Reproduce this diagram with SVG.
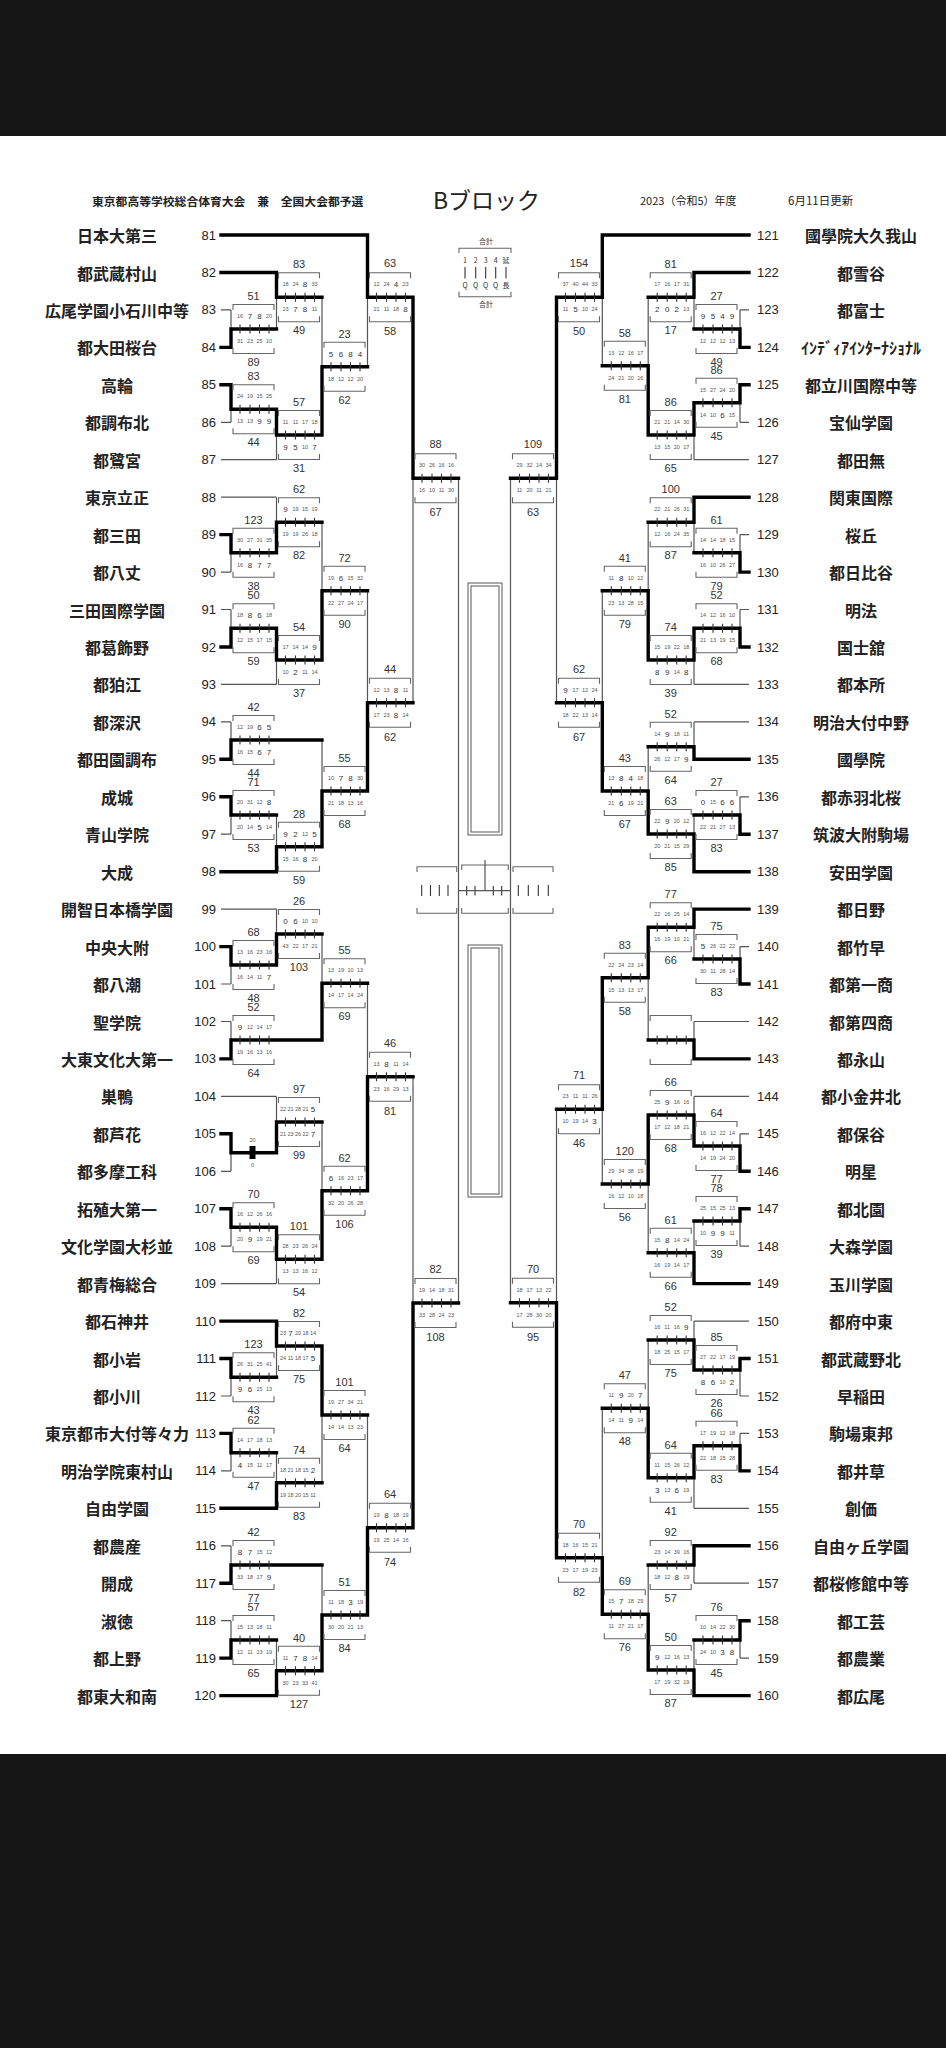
<svg xmlns="http://www.w3.org/2000/svg" xmlns:xlink="http://www.w3.org/1999/xlink" width="946" height="2048" viewBox="0 0 946 2048">
<style>
.tn{font-family:"Noto Sans CJK JP","Noto Sans CJK SC",sans-serif;font-size:16px;font-weight:700;text-anchor:middle;dominant-baseline:central;fill:#222}
.no{font-family:"Liberation Sans",Arial,sans-serif;font-size:13px;dominant-baseline:central;fill:#222}
.nl{text-anchor:end}
.tt{font-family:"Liberation Sans",Arial,sans-serif;font-size:11px;text-anchor:middle;dominant-baseline:central;fill:#333}
.q{font-family:"Liberation Sans",Arial,sans-serif;font-size:5.5px;text-anchor:middle;dominant-baseline:central;fill:#555}
.s{font-size:8px;fill:#333}
.th{fill:none;stroke:#555;stroke-width:1.2}
.tk{fill:none;stroke:#000;stroke-width:3.4;stroke-linecap:square;stroke-linejoin:miter}
.br{fill:none;stroke:#666;stroke-width:1.1}
.tc{fill:none;stroke:#333;stroke-width:1.1}
.lg{font-family:"Noto Sans CJK JP",sans-serif;font-size:7px;text-anchor:middle;dominant-baseline:central;fill:#333}
.hd{font-family:"Noto Sans CJK JP","Noto Sans CJK SC",sans-serif;dominant-baseline:central;fill:#222}
</style>
<defs>
<g id="bx"><path class="br" d="M2,-19V-24.5H43V-19M2,19V24.5H43V19"/><path class="tc" d="M9,-4.5V4.5M19,-4.5V4.5M28.5,-4.5V4.5M38,-4.5V4.5"/></g>
</defs>
<rect x="0" y="0" width="946" height="2048" fill="#161616"/>
<rect x="0" y="136" width="946" height="1618" fill="#ffffff"/>

<g id="header">
<text class="hd" x="92" y="200" style="font-size:11.8px;font-weight:700">東京都高等学校総合体育大会　兼　全国大会都予選</text>
<text class="hd" x="433" y="199" style="font-size:23px">Bブロック</text>
<text class="hd" x="640" y="200" style="font-size:11px">2023（令和5）年度</text>
<text class="hd" x="788" y="200" style="font-size:11.5px">6月11日更新</text>
</g>

<g id="legend">
<text class="lg" x="486" y="240.5">合計</text>
<path class="br" d="M459,253V248.3H511V253M459,291.7V296.7H511V291.7"/>
<text class="lg" y="260"><tspan x="465">1</tspan><tspan x="475.7">2</tspan><tspan x="485.7">3</tspan><tspan x="495.7">4</tspan><tspan x="506">延</tspan></text>
<path class="tc" d="M465,267V278.5M475.7,267V278.5M485.7,267V278.5M495.7,267V278.5M506,267V278.5"/>
<text class="lg" y="284.5"><tspan x="465">Q</tspan><tspan x="475.7">Q</tspan><tspan x="485.7">Q</tspan><tspan x="495.7">Q</tspan><tspan x="506">長</tspan></text>
<text class="lg" x="486" y="303.5">合計</text>
</g>

<g id="final">
<rect class="br" x="468" y="583" width="34" height="252"/>
<rect class="br" x="471" y="586" width="28" height="246"/>
<rect class="br" x="468" y="945" width="34" height="252"/>
<rect class="br" x="471" y="948" width="28" height="246"/>
<path class="br" d="M417,872V866.7H456.7V872M417,908V913.3H456.7V908"/>
<path class="tc" d="M421.7,885V896M430.5,885V896M439.3,885V896M448,885V896"/>
<path class="br" d="M461.7,870V865H508.3V870M461.7,908V913.3H508.3V908"/>
<path class="tc" d="M466.7,886V895.5M475,886V895.5M493.3,886V895.5M501.7,886V895.5"/>
<path class="br" d="M513,872V866.7H553V872M513,908V913.3H553V908"/>
<path class="tc" d="M518.3,885V896M528.3,885V896M538.3,885V896M548.3,885V896"/>
</g>

<g id="connectors">
<path class="th" d="M221,309.9H231M221,422.3H231M221,459.7H276.5M221,497.2H276.5M221,572.1H231M221,609.5H231M221,684.4H276.5M221,721.9H231M221,834.2H231M221,909.1H276.5M221,984H231M221,1021.5H231M221,1096.4H276.5M221,1171.3H231M221,1246.2H231M221,1283.6H276.5M221,1396H231M221,1470.9H231M221,1545.8H231M221,1620.7H231"/>
<path class="th" d="M231,309.9V347.4M231,384.8V422.3M231,534.6V572.1M231,609.5V647M231,721.9V759.3M231,796.8V834.2M231,946.6V984M231,1021.5V1058.9M231,1133.8V1171.3M231,1208.7V1246.2M231,1358.5V1396M231,1433.4V1470.9M231,1545.8V1583.2M231,1620.7V1658.1"/>
<path class="th" d="M276.5,272.5V329M276.5,409.3V459.7M276.5,497.2V552.7M276.5,628.3V684.4M276.5,815V871.7M276.5,909.1V965M276.5,1096.4V1152.7M276.5,1227.3V1283.6M276.5,1321.1V1377.3M276.5,1452.7V1508.3M276.5,1640V1695.6"/>
<path class="th" d="M322,297.3V435M322,522.3V660M322,740V846.7M322,934V1040M322,1122V1259.3M322,1346V1482.7M322,1565V1670.7"/>
<path class="th" d="M367.5,235V366.7M367.5,590.7V791M367.5,983.3V1190.7M367.5,1415V1615"/>
<path class="th" d="M413,297.3V702.7M413,1076.7V1527.7"/>
<path class="th" d="M458.5,478.3V1303M458.5,890.7H510.5M485,860V890.7"/>
<path class="th" d="M749,309.9H740M749,422.3H740M749,459.7H694M749,534.6H740M749,609.5H740M749,684.4H694M749,721.9H694M749,796.8H740M749,946.6H740M749,1021.5H694M749,1096.4H694M749,1133.8H740M749,1246.2H740M749,1321.1H694M749,1396H740M749,1433.4H740M749,1508.3H694M749,1583.2H694M749,1658.1H740"/>
<path class="th" d="M740,309.9V347.4M740,384.8V422.3M740,534.6V572.1M740,609.5V647M740,796.8V834.2M740,946.6V984M740,1133.8V1171.3M740,1208.7V1246.2M740,1358.5V1396M740,1433.4V1470.9M740,1620.7V1658.1"/>
<path class="th" d="M694,272.5V329M694,402.7V459.7M694,497.2V552.7M694,628.3V684.4M694,721.9V759.3M694,815V871.7M694,909.1V959M694,1021.5V1058.9M694,1096.4V1146M694,1221V1283.6M694,1321.1V1370M694,1445.7V1508.3M694,1545.8V1583.2M694,1640V1695.6"/>
<path class="th" d="M648.2,297.3V435M648.2,522.3V660M648.2,746.7V834M648.2,927.3V1040M648.2,1115V1252.7M648.2,1340V1477.7M648.2,1565V1670"/>
<path class="th" d="M602.3,235V365.7M602.3,590.7V791M602.3,977.7V1184M602.3,1408.3V1614.3"/>
<path class="th" d="M556.5,297.3V702.7M556.5,1109.3V1557.7"/>
<path class="th" d="M510.5,478.3V1302.7"/>
<path class="tk" d="M221,235H367.5V297.3H413V478.3H458.5"/>
<path class="tk" d="M221,272.5H276.5V297.3H322"/>
<path class="tk" d="M221,347.4H231V329H276.5"/>
<path class="tk" d="M221,384.8H231V409.3H276.5V435H322V366.7H367.5"/>
<path class="tk" d="M221,534.6H231V552.7H276.5V522.3H322"/>
<path class="tk" d="M221,647H231V628.3H276.5V660H322V590.7H367.5"/>
<path class="tk" d="M221,759.3H231V740H322"/>
<path class="tk" d="M221,796.8H231V815H276.5"/>
<path class="tk" d="M221,871.7H276.5V846.7H322V791H367.5V702.7H413"/>
<path class="tk" d="M221,946.6H231V965H276.5V934H322"/>
<path class="tk" d="M221,1058.9H231V1040H322V983.3H367.5"/>
<path class="tk" d="M221,1133.8H231V1152.7H276.5V1122H322"/>
<path class="tk" d="M221,1208.7H231V1227.3H276.5V1259.3H322V1190.7H367.5V1076.7H413"/>
<path class="tk" d="M221,1321.1H276.5V1346H322V1415H367.5"/>
<path class="tk" d="M221,1358.5H231V1377.3H276.5"/>
<path class="tk" d="M221,1433.4H231V1452.7H276.5"/>
<path class="tk" d="M221,1508.3H276.5V1482.7H322"/>
<path class="tk" d="M221,1583.2H231V1565H322"/>
<path class="tk" d="M221,1658.1H231V1640H276.5"/>
<path class="tk" d="M221,1695.6H276.5V1670.7H322V1615H367.5V1527.7H413V1303H458.5"/>
<path class="tk" d="M749,235H602.3V297.3H556.5V478.3H510.5"/>
<path class="tk" d="M749,272.5H694V297.3H648.2"/>
<path class="tk" d="M749,347.4H740V329H694"/>
<path class="tk" d="M749,384.8H740V402.7H694V435H648.2V365.7H602.3"/>
<path class="tk" d="M749,497.2H694V522.3H648.2"/>
<path class="tk" d="M749,572.1H740V552.7H694"/>
<path class="tk" d="M749,647H740V628.3H694V660H648.2V590.7H602.3"/>
<path class="tk" d="M749,759.3H694V746.7H648.2"/>
<path class="tk" d="M749,834.2H740V815H694"/>
<path class="tk" d="M749,871.7H694V834H648.2V791H602.3V702.7H556.5"/>
<path class="tk" d="M749,909.1H694V927.3H648.2V977.7H602.3V1109.3H556.5"/>
<path class="tk" d="M749,984H740V959H694"/>
<path class="tk" d="M749,1058.9H694V1040H648.2"/>
<path class="tk" d="M749,1171.3H740V1146H694V1115H648.2V1184H602.3"/>
<path class="tk" d="M749,1208.7H740V1221H694"/>
<path class="tk" d="M749,1283.6H694V1252.7H648.2"/>
<path class="tk" d="M749,1358.5H740V1370H694V1340H648.2"/>
<path class="tk" d="M749,1470.9H740V1445.7H694V1477.7H648.2V1408.3H602.3"/>
<path class="tk" d="M749,1545.8H694V1565H648.2"/>
<path class="tk" d="M749,1620.7H740V1640H694"/>
<path class="tk" d="M749,1695.6H694V1670H648.2V1614.3H602.3V1557.7H556.5V1302.7H510.5"/>
</g>

<g id="teams-left">
<g id="t81"><text class="tn" x="117" y="235">日本大第三</text><text class="no nl" x="216" y="235">81</text></g>
<g id="t82"><text class="tn" x="117" y="272.5">都武蔵村山</text><text class="no nl" x="216" y="272.5">82</text></g>
<g id="t83"><text class="tn" x="117" y="309.9">広尾学園小石川中等</text><text class="no nl" x="216" y="309.9">83</text></g>
<g id="t84"><text class="tn" x="117" y="347.4">都大田桜台</text><text class="no nl" x="216" y="347.4">84</text></g>
<g id="t85"><text class="tn" x="117" y="384.8">高輪</text><text class="no nl" x="216" y="384.8">85</text></g>
<g id="t86"><text class="tn" x="117" y="422.3">都調布北</text><text class="no nl" x="216" y="422.3">86</text></g>
<g id="t87"><text class="tn" x="117" y="459.7">都鷺宮</text><text class="no nl" x="216" y="459.7">87</text></g>
<g id="t88"><text class="tn" x="117" y="497.2">東京立正</text><text class="no nl" x="216" y="497.2">88</text></g>
<g id="t89"><text class="tn" x="117" y="534.6">都三田</text><text class="no nl" x="216" y="534.6">89</text></g>
<g id="t90"><text class="tn" x="117" y="572.1">都八丈</text><text class="no nl" x="216" y="572.1">90</text></g>
<g id="t91"><text class="tn" x="117" y="609.5">三田国際学園</text><text class="no nl" x="216" y="609.5">91</text></g>
<g id="t92"><text class="tn" x="117" y="647">都葛飾野</text><text class="no nl" x="216" y="647">92</text></g>
<g id="t93"><text class="tn" x="117" y="684.4">都狛江</text><text class="no nl" x="216" y="684.4">93</text></g>
<g id="t94"><text class="tn" x="117" y="721.9">都深沢</text><text class="no nl" x="216" y="721.9">94</text></g>
<g id="t95"><text class="tn" x="117" y="759.3">都田園調布</text><text class="no nl" x="216" y="759.3">95</text></g>
<g id="t96"><text class="tn" x="117" y="796.8">成城</text><text class="no nl" x="216" y="796.8">96</text></g>
<g id="t97"><text class="tn" x="117" y="834.2">青山学院</text><text class="no nl" x="216" y="834.2">97</text></g>
<g id="t98"><text class="tn" x="117" y="871.7">大成</text><text class="no nl" x="216" y="871.7">98</text></g>
<g id="t99"><text class="tn" x="117" y="909.1">開智日本橋学園</text><text class="no nl" x="216" y="909.1">99</text></g>
<g id="t100"><text class="tn" x="117" y="946.6">中央大附</text><text class="no nl" x="216" y="946.6">100</text></g>
<g id="t101"><text class="tn" x="117" y="984">都八潮</text><text class="no nl" x="216" y="984">101</text></g>
<g id="t102"><text class="tn" x="117" y="1021.5">聖学院</text><text class="no nl" x="216" y="1021.5">102</text></g>
<g id="t103"><text class="tn" x="117" y="1058.9">大東文化大第一</text><text class="no nl" x="216" y="1058.9">103</text></g>
<g id="t104"><text class="tn" x="117" y="1096.4">巣鴨</text><text class="no nl" x="216" y="1096.4">104</text></g>
<g id="t105"><text class="tn" x="117" y="1133.8">都芦花</text><text class="no nl" x="216" y="1133.8">105</text></g>
<g id="t106"><text class="tn" x="117" y="1171.3">都多摩工科</text><text class="no nl" x="216" y="1171.3">106</text></g>
<g id="t107"><text class="tn" x="117" y="1208.7">拓殖大第一</text><text class="no nl" x="216" y="1208.7">107</text></g>
<g id="t108"><text class="tn" x="117" y="1246.2">文化学園大杉並</text><text class="no nl" x="216" y="1246.2">108</text></g>
<g id="t109"><text class="tn" x="117" y="1283.6">都青梅総合</text><text class="no nl" x="216" y="1283.6">109</text></g>
<g id="t110"><text class="tn" x="117" y="1321.1">都石神井</text><text class="no nl" x="216" y="1321.1">110</text></g>
<g id="t111"><text class="tn" x="117" y="1358.5">都小岩</text><text class="no nl" x="216" y="1358.5">111</text></g>
<g id="t112"><text class="tn" x="117" y="1396">都小川</text><text class="no nl" x="216" y="1396">112</text></g>
<g id="t113"><text class="tn" x="117" y="1433.4">東京都市大付等々力</text><text class="no nl" x="216" y="1433.4">113</text></g>
<g id="t114"><text class="tn" x="117" y="1470.9">明治学院東村山</text><text class="no nl" x="216" y="1470.9">114</text></g>
<g id="t115"><text class="tn" x="117" y="1508.3">自由学園</text><text class="no nl" x="216" y="1508.3">115</text></g>
<g id="t116"><text class="tn" x="117" y="1545.8">都農産</text><text class="no nl" x="216" y="1545.8">116</text></g>
<g id="t117"><text class="tn" x="117" y="1583.2">開成</text><text class="no nl" x="216" y="1583.2">117</text></g>
<g id="t118"><text class="tn" x="117" y="1620.7">淑徳</text><text class="no nl" x="216" y="1620.7">118</text></g>
<g id="t119"><text class="tn" x="117" y="1658.1">都上野</text><text class="no nl" x="216" y="1658.1">119</text></g>
<g id="t120"><text class="tn" x="117" y="1695.6">都東大和南</text><text class="no nl" x="216" y="1695.6">120</text></g>
</g>

<g id="teams-right">
<g id="t121"><text class="tn" x="861" y="235">國學院大久我山</text><text class="no" x="757" y="235">121</text></g>
<g id="t122"><text class="tn" x="861" y="272.5">都雪谷</text><text class="no" x="757" y="272.5">122</text></g>
<g id="t123"><text class="tn" x="861" y="309.9">都富士</text><text class="no" x="757" y="309.9">123</text></g>
<g id="t124"><text class="tn" x="861" y="347.4">ｲﾝﾃﾞｨｱｲﾝﾀｰﾅｼｮﾅﾙ</text><text class="no" x="757" y="347.4">124</text></g>
<g id="t125"><text class="tn" x="861" y="384.8">都立川国際中等</text><text class="no" x="757" y="384.8">125</text></g>
<g id="t126"><text class="tn" x="861" y="422.3">宝仙学園</text><text class="no" x="757" y="422.3">126</text></g>
<g id="t127"><text class="tn" x="861" y="459.7">都田無</text><text class="no" x="757" y="459.7">127</text></g>
<g id="t128"><text class="tn" x="861" y="497.2">関東国際</text><text class="no" x="757" y="497.2">128</text></g>
<g id="t129"><text class="tn" x="861" y="534.6">桜丘</text><text class="no" x="757" y="534.6">129</text></g>
<g id="t130"><text class="tn" x="861" y="572.1">都日比谷</text><text class="no" x="757" y="572.1">130</text></g>
<g id="t131"><text class="tn" x="861" y="609.5">明法</text><text class="no" x="757" y="609.5">131</text></g>
<g id="t132"><text class="tn" x="861" y="647">国士舘</text><text class="no" x="757" y="647">132</text></g>
<g id="t133"><text class="tn" x="861" y="684.4">都本所</text><text class="no" x="757" y="684.4">133</text></g>
<g id="t134"><text class="tn" x="861" y="721.9">明治大付中野</text><text class="no" x="757" y="721.9">134</text></g>
<g id="t135"><text class="tn" x="861" y="759.3">國學院</text><text class="no" x="757" y="759.3">135</text></g>
<g id="t136"><text class="tn" x="861" y="796.8">都赤羽北桜</text><text class="no" x="757" y="796.8">136</text></g>
<g id="t137"><text class="tn" x="861" y="834.2">筑波大附駒場</text><text class="no" x="757" y="834.2">137</text></g>
<g id="t138"><text class="tn" x="861" y="871.7">安田学園</text><text class="no" x="757" y="871.7">138</text></g>
<g id="t139"><text class="tn" x="861" y="909.1">都日野</text><text class="no" x="757" y="909.1">139</text></g>
<g id="t140"><text class="tn" x="861" y="946.6">都竹早</text><text class="no" x="757" y="946.6">140</text></g>
<g id="t141"><text class="tn" x="861" y="984">都第一商</text><text class="no" x="757" y="984">141</text></g>
<g id="t142"><text class="tn" x="861" y="1021.5">都第四商</text><text class="no" x="757" y="1021.5">142</text></g>
<g id="t143"><text class="tn" x="861" y="1058.9">都永山</text><text class="no" x="757" y="1058.9">143</text></g>
<g id="t144"><text class="tn" x="861" y="1096.4">都小金井北</text><text class="no" x="757" y="1096.4">144</text></g>
<g id="t145"><text class="tn" x="861" y="1133.8">都保谷</text><text class="no" x="757" y="1133.8">145</text></g>
<g id="t146"><text class="tn" x="861" y="1171.3">明星</text><text class="no" x="757" y="1171.3">146</text></g>
<g id="t147"><text class="tn" x="861" y="1208.7">都北園</text><text class="no" x="757" y="1208.7">147</text></g>
<g id="t148"><text class="tn" x="861" y="1246.2">大森学園</text><text class="no" x="757" y="1246.2">148</text></g>
<g id="t149"><text class="tn" x="861" y="1283.6">玉川学園</text><text class="no" x="757" y="1283.6">149</text></g>
<g id="t150"><text class="tn" x="861" y="1321.1">都府中東</text><text class="no" x="757" y="1321.1">150</text></g>
<g id="t151"><text class="tn" x="861" y="1358.5">都武蔵野北</text><text class="no" x="757" y="1358.5">151</text></g>
<g id="t152"><text class="tn" x="861" y="1396">早稲田</text><text class="no" x="757" y="1396">152</text></g>
<g id="t153"><text class="tn" x="861" y="1433.4">駒場東邦</text><text class="no" x="757" y="1433.4">153</text></g>
<g id="t154"><text class="tn" x="861" y="1470.9">都井草</text><text class="no" x="757" y="1470.9">154</text></g>
<g id="t155"><text class="tn" x="861" y="1508.3">創価</text><text class="no" x="757" y="1508.3">155</text></g>
<g id="t156"><text class="tn" x="861" y="1545.8">自由ヶ丘学園</text><text class="no" x="757" y="1545.8">156</text></g>
<g id="t157"><text class="tn" x="861" y="1583.2">都桜修館中等</text><text class="no" x="757" y="1583.2">157</text></g>
<g id="t158"><text class="tn" x="861" y="1620.7">都工芸</text><text class="no" x="757" y="1620.7">158</text></g>
<g id="t159"><text class="tn" x="861" y="1658.1">都農業</text><text class="no" x="757" y="1658.1">159</text></g>
<g id="t160"><text class="tn" x="861" y="1695.6">都広尾</text><text class="no" x="757" y="1695.6">160</text></g>
</g>

<g id="matches-left">
<g id="m83" transform="translate(231,329)"><use href="#bx"/><text class="tt" x="22.5" y="-33">51</text><text class="tt" x="22.5" y="33">89</text><text class="q" y="-13"><tspan x="9">16</tspan><tspan x="19" class="s">7</tspan><tspan x="28.5" class="s">8</tspan><tspan x="38">20</tspan></text><text class="q" y="12"><tspan x="9">31</tspan><tspan x="19">23</tspan><tspan x="28.5">25</tspan><tspan x="38">10</tspan></text></g>
<g id="m85" transform="translate(231,409.3)"><use href="#bx"/><text class="tt" x="22.5" y="-33">83</text><text class="tt" x="22.5" y="33">44</text><text class="q" y="-13"><tspan x="9">24</tspan><tspan x="19">19</tspan><tspan x="28.5">15</tspan><tspan x="38">25</tspan></text><text class="q" y="12"><tspan x="9">13</tspan><tspan x="19">13</tspan><tspan x="28.5" class="s">9</tspan><tspan x="38" class="s">9</tspan></text></g>
<g id="m89" transform="translate(231,552.7)"><use href="#bx"/><text class="tt" x="22.5" y="-33">123</text><text class="tt" x="22.5" y="33">38</text><text class="q" y="-13"><tspan x="9">30</tspan><tspan x="19">27</tspan><tspan x="28.5">31</tspan><tspan x="38">35</tspan></text><text class="q" y="12"><tspan x="9">16</tspan><tspan x="19" class="s">8</tspan><tspan x="28.5" class="s">7</tspan><tspan x="38" class="s">7</tspan></text></g>
<g id="m91" transform="translate(231,628.3)"><use href="#bx"/><text class="tt" x="22.5" y="-33">50</text><text class="tt" x="22.5" y="33">59</text><text class="q" y="-13"><tspan x="9">18</tspan><tspan x="19" class="s">8</tspan><tspan x="28.5" class="s">6</tspan><tspan x="38">18</tspan></text><text class="q" y="12"><tspan x="9">12</tspan><tspan x="19">15</tspan><tspan x="28.5">17</tspan><tspan x="38">15</tspan></text></g>
<g id="m94" transform="translate(231,740)"><use href="#bx"/><text class="tt" x="22.5" y="-33">42</text><text class="tt" x="22.5" y="33">44</text><text class="q" y="-13"><tspan x="9">12</tspan><tspan x="19">19</tspan><tspan x="28.5" class="s">6</tspan><tspan x="38" class="s">5</tspan></text><text class="q" y="12"><tspan x="9">16</tspan><tspan x="19">15</tspan><tspan x="28.5" class="s">6</tspan><tspan x="38" class="s">7</tspan></text></g>
<g id="m96" transform="translate(231,815)"><use href="#bx"/><text class="tt" x="22.5" y="-33">71</text><text class="tt" x="22.5" y="33">53</text><text class="q" y="-13"><tspan x="9">20</tspan><tspan x="19">31</tspan><tspan x="28.5">12</tspan><tspan x="38" class="s">8</tspan></text><text class="q" y="12"><tspan x="9">20</tspan><tspan x="19">14</tspan><tspan x="28.5" class="s">5</tspan><tspan x="38">14</tspan></text></g>
<g id="m100" transform="translate(231,965)"><use href="#bx"/><text class="tt" x="22.5" y="-33">68</text><text class="tt" x="22.5" y="33">48</text><text class="q" y="-13"><tspan x="9">13</tspan><tspan x="19">16</tspan><tspan x="28.5">23</tspan><tspan x="38">16</tspan></text><text class="q" y="12"><tspan x="9">16</tspan><tspan x="19">14</tspan><tspan x="28.5">11</tspan><tspan x="38" class="s">7</tspan></text></g>
<g id="m102" transform="translate(231,1040)"><use href="#bx"/><text class="tt" x="22.5" y="-33">52</text><text class="tt" x="22.5" y="33">64</text><text class="q" y="-13"><tspan x="9" class="s">9</tspan><tspan x="19">12</tspan><tspan x="28.5">14</tspan><tspan x="38">17</tspan></text><text class="q" y="12"><tspan x="9">19</tspan><tspan x="19">16</tspan><tspan x="28.5">13</tspan><tspan x="38">16</tspan></text></g>
<g id="m105"><text class="q" x="252.5" y="1140">20</text><rect x="249.5" y="1146" width="6" height="13" fill="#000"/><text class="q" x="252.5" y="1164.5">0</text></g>
<g id="m107" transform="translate(231,1227.3)"><use href="#bx"/><text class="tt" x="22.5" y="-33">70</text><text class="tt" x="22.5" y="33">69</text><text class="q" y="-13"><tspan x="9">16</tspan><tspan x="19">12</tspan><tspan x="28.5">26</tspan><tspan x="38">16</tspan></text><text class="q" y="12"><tspan x="9">20</tspan><tspan x="19" class="s">9</tspan><tspan x="28.5">19</tspan><tspan x="38">21</tspan></text></g>
<g id="m111" transform="translate(231,1377.3)"><use href="#bx"/><text class="tt" x="22.5" y="-33">123</text><text class="tt" x="22.5" y="33">43</text><text class="q" y="-13"><tspan x="9">26</tspan><tspan x="19">31</tspan><tspan x="28.5">25</tspan><tspan x="38">41</tspan></text><text class="q" y="12"><tspan x="9" class="s">9</tspan><tspan x="19" class="s">6</tspan><tspan x="28.5">15</tspan><tspan x="38">13</tspan></text></g>
<g id="m113" transform="translate(231,1452.7)"><use href="#bx"/><text class="tt" x="22.5" y="-33">62</text><text class="tt" x="22.5" y="33">47</text><text class="q" y="-13"><tspan x="9">14</tspan><tspan x="19">17</tspan><tspan x="28.5">18</tspan><tspan x="38">13</tspan></text><text class="q" y="12"><tspan x="9" class="s">4</tspan><tspan x="19">15</tspan><tspan x="28.5">11</tspan><tspan x="38">17</tspan></text></g>
<g id="m116" transform="translate(231,1565)"><use href="#bx"/><text class="tt" x="22.5" y="-33">42</text><text class="tt" x="22.5" y="33">77</text><text class="q" y="-13"><tspan x="9" class="s">8</tspan><tspan x="19" class="s">7</tspan><tspan x="28.5">15</tspan><tspan x="38">12</tspan></text><text class="q" y="12"><tspan x="9">33</tspan><tspan x="19">18</tspan><tspan x="28.5">17</tspan><tspan x="38" class="s">9</tspan></text></g>
<g id="m118" transform="translate(231,1640)"><use href="#bx"/><text class="tt" x="22.5" y="-33">57</text><text class="tt" x="22.5" y="33">65</text><text class="q" y="-13"><tspan x="9">15</tspan><tspan x="19">13</tspan><tspan x="28.5">18</tspan><tspan x="38">11</tspan></text><text class="q" y="12"><tspan x="9">12</tspan><tspan x="19">11</tspan><tspan x="28.5">23</tspan><tspan x="38">19</tspan></text></g>

<g id="n82" transform="translate(276.5,297.3)"><use href="#bx"/><text class="tt" x="22.5" y="-33">83</text><text class="tt" x="22.5" y="33">49</text><text class="q" y="-13"><tspan x="9">18</tspan><tspan x="19">24</tspan><tspan x="28.5" class="s">8</tspan><tspan x="38">33</tspan></text><text class="q" y="12"><tspan x="9">23</tspan><tspan x="19" class="s">7</tspan><tspan x="28.5" class="s">8</tspan><tspan x="38">11</tspan></text></g>
<g id="n87" transform="translate(276.5,435)"><use href="#bx"/><text class="tt" x="22.5" y="-33">57</text><text class="tt" x="22.5" y="33">31</text><text class="q" y="-13"><tspan x="9">11</tspan><tspan x="19">11</tspan><tspan x="28.5">17</tspan><tspan x="38">18</tspan></text><text class="q" y="12"><tspan x="9" class="s">9</tspan><tspan x="19" class="s">5</tspan><tspan x="28.5">10</tspan><tspan x="38" class="s">7</tspan></text></g>
<g id="n88" transform="translate(276.5,522.3)"><use href="#bx"/><text class="tt" x="22.5" y="-33">62</text><text class="tt" x="22.5" y="33">82</text><text class="q" y="-13"><tspan x="9" class="s">9</tspan><tspan x="19">19</tspan><tspan x="28.5">15</tspan><tspan x="38">19</tspan></text><text class="q" y="12"><tspan x="9">19</tspan><tspan x="19">19</tspan><tspan x="28.5">26</tspan><tspan x="38">18</tspan></text></g>
<g id="n93" transform="translate(276.5,660)"><use href="#bx"/><text class="tt" x="22.5" y="-33">54</text><text class="tt" x="22.5" y="33">37</text><text class="q" y="-13"><tspan x="9">17</tspan><tspan x="19">14</tspan><tspan x="28.5">14</tspan><tspan x="38" class="s">9</tspan></text><text class="q" y="12"><tspan x="9">10</tspan><tspan x="19" class="s">2</tspan><tspan x="28.5">11</tspan><tspan x="38">14</tspan></text></g>
<g id="n98" transform="translate(276.5,846.7)"><use href="#bx"/><text class="tt" x="22.5" y="-33">28</text><text class="tt" x="22.5" y="33">59</text><text class="q" y="-13"><tspan x="9" class="s">9</tspan><tspan x="19" class="s">2</tspan><tspan x="28.5">12</tspan><tspan x="38" class="s">5</tspan></text><text class="q" y="12"><tspan x="9">15</tspan><tspan x="19">16</tspan><tspan x="28.5" class="s">8</tspan><tspan x="38">20</tspan></text></g>
<g id="n99" transform="translate(276.5,934)"><use href="#bx"/><text class="tt" x="22.5" y="-33">26</text><text class="tt" x="22.5" y="33">103</text><text class="q" y="-13"><tspan x="9" class="s">0</tspan><tspan x="19" class="s">6</tspan><tspan x="28.5">10</tspan><tspan x="38">10</tspan></text><text class="q" y="12"><tspan x="9">43</tspan><tspan x="19">22</tspan><tspan x="28.5">17</tspan><tspan x="38">21</tspan></text></g>
<g id="n104" transform="translate(276.5,1122)"><use href="#bx"/><text class="tt" x="22.5" y="-33">97</text><text class="tt" x="22.5" y="33">99</text><text class="q" y="-13"><tspan x="6.5">22</tspan><tspan x="14">21</tspan><tspan x="21.5">28</tspan><tspan x="29">21</tspan><tspan x="36.5" class="s">5</tspan></text><text class="q" y="12"><tspan x="6.5">21</tspan><tspan x="14">23</tspan><tspan x="21.5">26</tspan><tspan x="29">22</tspan><tspan x="36.5" class="s">7</tspan></text></g>
<g id="n109" transform="translate(276.5,1259.3)"><use href="#bx"/><text class="tt" x="22.5" y="-33">101</text><text class="tt" x="22.5" y="33">54</text><text class="q" y="-13"><tspan x="9">28</tspan><tspan x="19">23</tspan><tspan x="28.5">26</tspan><tspan x="38">24</tspan></text><text class="q" y="12"><tspan x="9">13</tspan><tspan x="19">13</tspan><tspan x="28.5">16</tspan><tspan x="38">12</tspan></text></g>
<g id="n110" transform="translate(276.5,1346)"><use href="#bx"/><text class="tt" x="22.5" y="-33">82</text><text class="tt" x="22.5" y="33">75</text><text class="q" y="-13"><tspan x="6.5">23</tspan><tspan x="14" class="s">7</tspan><tspan x="21.5">20</tspan><tspan x="29">18</tspan><tspan x="36.5">14</tspan></text><text class="q" y="12"><tspan x="6.5">24</tspan><tspan x="14">11</tspan><tspan x="21.5">18</tspan><tspan x="29">17</tspan><tspan x="36.5" class="s">5</tspan></text></g>
<g id="n115" transform="translate(276.5,1482.7)"><use href="#bx"/><text class="tt" x="22.5" y="-33">74</text><text class="tt" x="22.5" y="33">83</text><text class="q" y="-13"><tspan x="6.5">18</tspan><tspan x="14">21</tspan><tspan x="21.5">18</tspan><tspan x="29">15</tspan><tspan x="36.5" class="s">2</tspan></text><text class="q" y="12"><tspan x="6.5">19</tspan><tspan x="14">18</tspan><tspan x="21.5">20</tspan><tspan x="29">15</tspan><tspan x="36.5">11</tspan></text></g>
<g id="n120" transform="translate(276.5,1670.7)"><use href="#bx"/><text class="tt" x="22.5" y="-33">40</text><text class="tt" x="22.5" y="33">127</text><text class="q" y="-13"><tspan x="9">11</tspan><tspan x="19" class="s">7</tspan><tspan x="28.5" class="s">8</tspan><tspan x="38">14</tspan></text><text class="q" y="12"><tspan x="9">30</tspan><tspan x="19">23</tspan><tspan x="28.5">33</tspan><tspan x="38">41</tspan></text></g>

<g id="p1" transform="translate(322,366.7)"><use href="#bx"/><text class="tt" x="22.5" y="-33">23</text><text class="tt" x="22.5" y="33">62</text><text class="q" y="-13"><tspan x="9" class="s">5</tspan><tspan x="19" class="s">6</tspan><tspan x="28.5" class="s">8</tspan><tspan x="38" class="s">4</tspan></text><text class="q" y="12"><tspan x="9">18</tspan><tspan x="19">12</tspan><tspan x="28.5">12</tspan><tspan x="38">20</tspan></text></g>
<g id="p2" transform="translate(322,590.7)"><use href="#bx"/><text class="tt" x="22.5" y="-33">72</text><text class="tt" x="22.5" y="33">90</text><text class="q" y="-13"><tspan x="9">19</tspan><tspan x="19" class="s">6</tspan><tspan x="28.5">15</tspan><tspan x="38">32</tspan></text><text class="q" y="12"><tspan x="9">22</tspan><tspan x="19">27</tspan><tspan x="28.5">24</tspan><tspan x="38">17</tspan></text></g>
<g id="p3" transform="translate(322,791)"><use href="#bx"/><text class="tt" x="22.5" y="-33">55</text><text class="tt" x="22.5" y="33">68</text><text class="q" y="-13"><tspan x="9">10</tspan><tspan x="19" class="s">7</tspan><tspan x="28.5" class="s">8</tspan><tspan x="38">30</tspan></text><text class="q" y="12"><tspan x="9">21</tspan><tspan x="19">18</tspan><tspan x="28.5">13</tspan><tspan x="38">16</tspan></text></g>
<g id="p4" transform="translate(322,983.3)"><use href="#bx"/><text class="tt" x="22.5" y="-33">55</text><text class="tt" x="22.5" y="33">69</text><text class="q" y="-13"><tspan x="9">13</tspan><tspan x="19">19</tspan><tspan x="28.5">10</tspan><tspan x="38">13</tspan></text><text class="q" y="12"><tspan x="9">14</tspan><tspan x="19">17</tspan><tspan x="28.5">14</tspan><tspan x="38">24</tspan></text></g>
<g id="p5" transform="translate(322,1190.7)"><use href="#bx"/><text class="tt" x="22.5" y="-33">62</text><text class="tt" x="22.5" y="33">106</text><text class="q" y="-13"><tspan x="9" class="s">6</tspan><tspan x="19">16</tspan><tspan x="28.5">23</tspan><tspan x="38">17</tspan></text><text class="q" y="12"><tspan x="9">32</tspan><tspan x="19">20</tspan><tspan x="28.5">26</tspan><tspan x="38">28</tspan></text></g>
<g id="p6" transform="translate(322,1415)"><use href="#bx"/><text class="tt" x="22.5" y="-33">101</text><text class="tt" x="22.5" y="33">64</text><text class="q" y="-13"><tspan x="9">19</tspan><tspan x="19">27</tspan><tspan x="28.5">34</tspan><tspan x="38">21</tspan></text><text class="q" y="12"><tspan x="9">14</tspan><tspan x="19">14</tspan><tspan x="28.5">13</tspan><tspan x="38">23</tspan></text></g>
<g id="p7" transform="translate(322,1615)"><use href="#bx"/><text class="tt" x="22.5" y="-33">51</text><text class="tt" x="22.5" y="33">84</text><text class="q" y="-13"><tspan x="9">11</tspan><tspan x="19">18</tspan><tspan x="28.5" class="s">3</tspan><tspan x="38">19</tspan></text><text class="q" y="12"><tspan x="9">30</tspan><tspan x="19">20</tspan><tspan x="28.5">21</tspan><tspan x="38">13</tspan></text></g>

<g id="q1" transform="translate(367.5,297.3)"><use href="#bx"/><text class="tt" x="22.5" y="-34">63</text><text class="tt" x="22.5" y="34">58</text><text class="q" y="-13"><tspan x="9">12</tspan><tspan x="19">24</tspan><tspan x="28.5" class="s">4</tspan><tspan x="38">23</tspan></text><text class="q" y="12"><tspan x="9">21</tspan><tspan x="19">11</tspan><tspan x="28.5">18</tspan><tspan x="38" class="s">8</tspan></text></g>
<g id="q2" transform="translate(367.5,702.7)"><use href="#bx"/><text class="tt" x="22.5" y="-34">44</text><text class="tt" x="22.5" y="34">62</text><text class="q" y="-13"><tspan x="9">12</tspan><tspan x="19">13</tspan><tspan x="28.5" class="s">8</tspan><tspan x="38">11</tspan></text><text class="q" y="12"><tspan x="9">17</tspan><tspan x="19">23</tspan><tspan x="28.5" class="s">8</tspan><tspan x="38">14</tspan></text></g>
<g id="q3" transform="translate(367.5,1076.7)"><use href="#bx"/><text class="tt" x="22.5" y="-34">46</text><text class="tt" x="22.5" y="34">81</text><text class="q" y="-13"><tspan x="9">13</tspan><tspan x="19" class="s">8</tspan><tspan x="28.5">11</tspan><tspan x="38">14</tspan></text><text class="q" y="12"><tspan x="9">23</tspan><tspan x="19">16</tspan><tspan x="28.5">29</tspan><tspan x="38">13</tspan></text></g>
<g id="q4" transform="translate(367.5,1527.7)"><use href="#bx"/><text class="tt" x="22.5" y="-34">64</text><text class="tt" x="22.5" y="34">74</text><text class="q" y="-13"><tspan x="9">19</tspan><tspan x="19" class="s">8</tspan><tspan x="28.5">18</tspan><tspan x="38">19</tspan></text><text class="q" y="12"><tspan x="9">19</tspan><tspan x="19">25</tspan><tspan x="28.5">14</tspan><tspan x="38">16</tspan></text></g>

<g id="s1" transform="translate(413,478.3)"><use href="#bx"/><text class="tt" x="22.5" y="-34">88</text><text class="tt" x="22.5" y="34">67</text><text class="q" y="-13"><tspan x="9">30</tspan><tspan x="19">26</tspan><tspan x="28.5">16</tspan><tspan x="38">16</tspan></text><text class="q" y="12"><tspan x="9">16</tspan><tspan x="19">10</tspan><tspan x="28.5">11</tspan><tspan x="38">30</tspan></text></g>
<g id="s2" transform="translate(413,1303)"><use href="#bx"/><text class="tt" x="22.5" y="-34">82</text><text class="tt" x="22.5" y="34">108</text><text class="q" y="-13"><tspan x="9">19</tspan><tspan x="19">14</tspan><tspan x="28.5">18</tspan><tspan x="38">31</tspan></text><text class="q" y="12"><tspan x="9">33</tspan><tspan x="19">28</tspan><tspan x="28.5">24</tspan><tspan x="38">23</tspan></text></g>
</g>

<g id="matches-right">
<g id="m123" transform="translate(694,329)"><use href="#bx"/><text class="tt" x="22.5" y="-33">27</text><text class="tt" x="22.5" y="33">49</text><text class="q" y="-13"><tspan x="9" class="s">9</tspan><tspan x="19" class="s">5</tspan><tspan x="28.5" class="s">4</tspan><tspan x="38" class="s">9</tspan></text><text class="q" y="12"><tspan x="9">12</tspan><tspan x="19">12</tspan><tspan x="28.5">12</tspan><tspan x="38">13</tspan></text></g>
<g id="m125" transform="translate(694,402.7)"><use href="#bx"/><text class="tt" x="22.5" y="-33">86</text><text class="tt" x="22.5" y="33">45</text><text class="q" y="-13"><tspan x="9">15</tspan><tspan x="19">27</tspan><tspan x="28.5">24</tspan><tspan x="38">20</tspan></text><text class="q" y="12"><tspan x="9">14</tspan><tspan x="19">10</tspan><tspan x="28.5" class="s">6</tspan><tspan x="38">15</tspan></text></g>
<g id="m129" transform="translate(694,552.7)"><use href="#bx"/><text class="tt" x="22.5" y="-33">61</text><text class="tt" x="22.5" y="33">79</text><text class="q" y="-13"><tspan x="9">14</tspan><tspan x="19">14</tspan><tspan x="28.5">18</tspan><tspan x="38">15</tspan></text><text class="q" y="12"><tspan x="9">16</tspan><tspan x="19">10</tspan><tspan x="28.5">26</tspan><tspan x="38">27</tspan></text></g>
<g id="m131" transform="translate(694,628.3)"><use href="#bx"/><text class="tt" x="22.5" y="-33">52</text><text class="tt" x="22.5" y="33">68</text><text class="q" y="-13"><tspan x="9">14</tspan><tspan x="19">12</tspan><tspan x="28.5">16</tspan><tspan x="38">10</tspan></text><text class="q" y="12"><tspan x="9">21</tspan><tspan x="19">13</tspan><tspan x="28.5">19</tspan><tspan x="38">15</tspan></text></g>
<g id="m136" transform="translate(694,815)"><use href="#bx"/><text class="tt" x="22.5" y="-33">27</text><text class="tt" x="22.5" y="33">83</text><text class="q" y="-13"><tspan x="9" class="s">0</tspan><tspan x="19">15</tspan><tspan x="28.5" class="s">6</tspan><tspan x="38" class="s">6</tspan></text><text class="q" y="12"><tspan x="9">22</tspan><tspan x="19">21</tspan><tspan x="28.5">27</tspan><tspan x="38">13</tspan></text></g>
<g id="m140" transform="translate(694,959)"><use href="#bx"/><text class="tt" x="22.5" y="-33">75</text><text class="tt" x="22.5" y="33">83</text><text class="q" y="-13"><tspan x="9" class="s">5</tspan><tspan x="19">26</tspan><tspan x="28.5">22</tspan><tspan x="38">22</tspan></text><text class="q" y="12"><tspan x="9">30</tspan><tspan x="19">11</tspan><tspan x="28.5">28</tspan><tspan x="38">14</tspan></text></g>
<g id="m145" transform="translate(694,1146)"><use href="#bx"/><text class="tt" x="22.5" y="-33">64</text><text class="tt" x="22.5" y="33">77</text><text class="q" y="-13"><tspan x="9">16</tspan><tspan x="19">12</tspan><tspan x="28.5">22</tspan><tspan x="38">14</tspan></text><text class="q" y="12"><tspan x="9">14</tspan><tspan x="19">19</tspan><tspan x="28.5">24</tspan><tspan x="38">20</tspan></text></g>
<g id="m147" transform="translate(694,1221)"><use href="#bx"/><text class="tt" x="22.5" y="-33">78</text><text class="tt" x="22.5" y="33">39</text><text class="q" y="-13"><tspan x="9">25</tspan><tspan x="19">15</tspan><tspan x="28.5">25</tspan><tspan x="38">13</tspan></text><text class="q" y="12"><tspan x="9">10</tspan><tspan x="19" class="s">9</tspan><tspan x="28.5" class="s">9</tspan><tspan x="38">11</tspan></text></g>
<g id="m151" transform="translate(694,1370)"><use href="#bx"/><text class="tt" x="22.5" y="-33">85</text><text class="tt" x="22.5" y="33">26</text><text class="q" y="-13"><tspan x="9">27</tspan><tspan x="19">22</tspan><tspan x="28.5">17</tspan><tspan x="38">19</tspan></text><text class="q" y="12"><tspan x="9" class="s">8</tspan><tspan x="19" class="s">6</tspan><tspan x="28.5">10</tspan><tspan x="38" class="s">2</tspan></text></g>
<g id="m153" transform="translate(694,1445.7)"><use href="#bx"/><text class="tt" x="22.5" y="-33">66</text><text class="tt" x="22.5" y="33">83</text><text class="q" y="-13"><tspan x="9">17</tspan><tspan x="19">19</tspan><tspan x="28.5">12</tspan><tspan x="38">18</tspan></text><text class="q" y="12"><tspan x="9">22</tspan><tspan x="19">18</tspan><tspan x="28.5">15</tspan><tspan x="38">28</tspan></text></g>
<g id="m158" transform="translate(694,1640)"><use href="#bx"/><text class="tt" x="22.5" y="-33">76</text><text class="tt" x="22.5" y="33">45</text><text class="q" y="-13"><tspan x="9">10</tspan><tspan x="19">14</tspan><tspan x="28.5">22</tspan><tspan x="38">30</tspan></text><text class="q" y="12"><tspan x="9">24</tspan><tspan x="19">10</tspan><tspan x="28.5" class="s">3</tspan><tspan x="38" class="s">8</tspan></text></g>

<g id="n122" transform="translate(648.2,297.3)"><use href="#bx"/><text class="tt" x="22.5" y="-33">81</text><text class="tt" x="22.5" y="33">17</text><text class="q" y="-13"><tspan x="9">17</tspan><tspan x="19">16</tspan><tspan x="28.5">17</tspan><tspan x="38">31</tspan></text><text class="q" y="12"><tspan x="9" class="s">2</tspan><tspan x="19" class="s">0</tspan><tspan x="28.5" class="s">2</tspan><tspan x="38">13</tspan></text></g>
<g id="n127" transform="translate(648.2,435)"><use href="#bx"/><text class="tt" x="22.5" y="-33">86</text><text class="tt" x="22.5" y="33">65</text><text class="q" y="-13"><tspan x="9">21</tspan><tspan x="19">21</tspan><tspan x="28.5">14</tspan><tspan x="38">30</tspan></text><text class="q" y="12"><tspan x="9">13</tspan><tspan x="19">15</tspan><tspan x="28.5">20</tspan><tspan x="38">17</tspan></text></g>
<g id="n128" transform="translate(648.2,522.3)"><use href="#bx"/><text class="tt" x="22.5" y="-33">100</text><text class="tt" x="22.5" y="33">87</text><text class="q" y="-13"><tspan x="9">22</tspan><tspan x="19">21</tspan><tspan x="28.5">26</tspan><tspan x="38">31</tspan></text><text class="q" y="12"><tspan x="9">12</tspan><tspan x="19">16</tspan><tspan x="28.5">24</tspan><tspan x="38">35</tspan></text></g>
<g id="n133" transform="translate(648.2,660)"><use href="#bx"/><text class="tt" x="22.5" y="-33">74</text><text class="tt" x="22.5" y="33">39</text><text class="q" y="-13"><tspan x="9">15</tspan><tspan x="19">19</tspan><tspan x="28.5">22</tspan><tspan x="38">18</tspan></text><text class="q" y="12"><tspan x="9" class="s">8</tspan><tspan x="19" class="s">9</tspan><tspan x="28.5">14</tspan><tspan x="38" class="s">8</tspan></text></g>
<g id="n134" transform="translate(648.2,746.7)"><use href="#bx"/><text class="tt" x="22.5" y="-33">52</text><text class="tt" x="22.5" y="33">64</text><text class="q" y="-13"><tspan x="9">14</tspan><tspan x="19" class="s">9</tspan><tspan x="28.5">18</tspan><tspan x="38">11</tspan></text><text class="q" y="12"><tspan x="9">26</tspan><tspan x="19">12</tspan><tspan x="28.5">17</tspan><tspan x="38" class="s">9</tspan></text></g>
<g id="n138" transform="translate(648.2,834)"><use href="#bx"/><text class="tt" x="22.5" y="-33">63</text><text class="tt" x="22.5" y="33">85</text><text class="q" y="-13"><tspan x="9">22</tspan><tspan x="19" class="s">9</tspan><tspan x="28.5">20</tspan><tspan x="38">12</tspan></text><text class="q" y="12"><tspan x="9">20</tspan><tspan x="19">21</tspan><tspan x="28.5">15</tspan><tspan x="38">29</tspan></text></g>
<g id="n139" transform="translate(648.2,927.3)"><use href="#bx"/><text class="tt" x="22.5" y="-33">77</text><text class="tt" x="22.5" y="33">66</text><text class="q" y="-13"><tspan x="9">22</tspan><tspan x="19">16</tspan><tspan x="28.5">25</tspan><tspan x="38">14</tspan></text><text class="q" y="12"><tspan x="9">16</tspan><tspan x="19">19</tspan><tspan x="28.5">10</tspan><tspan x="38">21</tspan></text></g>
<g id="n142" transform="translate(648.2,1040)"><use href="#bx"/></g>
<g id="n144" transform="translate(648.2,1115)"><use href="#bx"/><text class="tt" x="22.5" y="-33">66</text><text class="tt" x="22.5" y="33">68</text><text class="q" y="-13"><tspan x="9">25</tspan><tspan x="19" class="s">9</tspan><tspan x="28.5">16</tspan><tspan x="38">16</tspan></text><text class="q" y="12"><tspan x="9">17</tspan><tspan x="19">12</tspan><tspan x="28.5">18</tspan><tspan x="38">21</tspan></text></g>
<g id="n149" transform="translate(648.2,1252.7)"><use href="#bx"/><text class="tt" x="22.5" y="-33">61</text><text class="tt" x="22.5" y="33">66</text><text class="q" y="-13"><tspan x="9">15</tspan><tspan x="19" class="s">8</tspan><tspan x="28.5">14</tspan><tspan x="38">24</tspan></text><text class="q" y="12"><tspan x="9">16</tspan><tspan x="19">19</tspan><tspan x="28.5">14</tspan><tspan x="38">17</tspan></text></g>
<g id="n150" transform="translate(648.2,1340)"><use href="#bx"/><text class="tt" x="22.5" y="-33">52</text><text class="tt" x="22.5" y="33">75</text><text class="q" y="-13"><tspan x="9">16</tspan><tspan x="19">11</tspan><tspan x="28.5">16</tspan><tspan x="38" class="s">9</tspan></text><text class="q" y="12"><tspan x="9">18</tspan><tspan x="19">25</tspan><tspan x="28.5">15</tspan><tspan x="38">17</tspan></text></g>
<g id="n155" transform="translate(648.2,1477.7)"><use href="#bx"/><text class="tt" x="22.5" y="-33">64</text><text class="tt" x="22.5" y="33">41</text><text class="q" y="-13"><tspan x="9">11</tspan><tspan x="19">15</tspan><tspan x="28.5">26</tspan><tspan x="38">12</tspan></text><text class="q" y="12"><tspan x="9" class="s">3</tspan><tspan x="19">13</tspan><tspan x="28.5" class="s">6</tspan><tspan x="38">19</tspan></text></g>
<g id="n156" transform="translate(648.2,1565)"><use href="#bx"/><text class="tt" x="22.5" y="-33">92</text><text class="tt" x="22.5" y="33">57</text><text class="q" y="-13"><tspan x="9">23</tspan><tspan x="19">14</tspan><tspan x="28.5">39</tspan><tspan x="38">16</tspan></text><text class="q" y="12"><tspan x="9">18</tspan><tspan x="19">12</tspan><tspan x="28.5" class="s">8</tspan><tspan x="38">19</tspan></text></g>
<g id="n160" transform="translate(648.2,1670)"><use href="#bx"/><text class="tt" x="22.5" y="-33">50</text><text class="tt" x="22.5" y="33">87</text><text class="q" y="-13"><tspan x="9" class="s">9</tspan><tspan x="19">12</tspan><tspan x="28.5">16</tspan><tspan x="38">13</tspan></text><text class="q" y="12"><tspan x="9">17</tspan><tspan x="19">19</tspan><tspan x="28.5">32</tspan><tspan x="38">19</tspan></text></g>

<g id="pr1" transform="translate(602.3,365.7)"><use href="#bx"/><text class="tt" x="22.5" y="-33">58</text><text class="tt" x="22.5" y="33">81</text><text class="q" y="-13"><tspan x="9">13</tspan><tspan x="19">12</tspan><tspan x="28.5">16</tspan><tspan x="38">17</tspan></text><text class="q" y="12"><tspan x="9">24</tspan><tspan x="19">21</tspan><tspan x="28.5">20</tspan><tspan x="38">16</tspan></text></g>
<g id="pr2" transform="translate(602.3,590.7)"><use href="#bx"/><text class="tt" x="22.5" y="-33">41</text><text class="tt" x="22.5" y="33">79</text><text class="q" y="-13"><tspan x="9">11</tspan><tspan x="19" class="s">8</tspan><tspan x="28.5">10</tspan><tspan x="38">12</tspan></text><text class="q" y="12"><tspan x="9">23</tspan><tspan x="19">13</tspan><tspan x="28.5">28</tspan><tspan x="38">15</tspan></text></g>
<g id="pr3" transform="translate(602.3,791)"><use href="#bx"/><text class="tt" x="22.5" y="-33">43</text><text class="tt" x="22.5" y="33">67</text><text class="q" y="-13"><tspan x="9">13</tspan><tspan x="19" class="s">8</tspan><tspan x="28.5" class="s">4</tspan><tspan x="38">18</tspan></text><text class="q" y="12"><tspan x="9">21</tspan><tspan x="19" class="s">6</tspan><tspan x="28.5">19</tspan><tspan x="38">21</tspan></text></g>
<g id="pr4" transform="translate(602.3,977.7)"><use href="#bx"/><text class="tt" x="22.5" y="-33">83</text><text class="tt" x="22.5" y="33">58</text><text class="q" y="-13"><tspan x="9">22</tspan><tspan x="19">24</tspan><tspan x="28.5">23</tspan><tspan x="38">14</tspan></text><text class="q" y="12"><tspan x="9">15</tspan><tspan x="19">13</tspan><tspan x="28.5">13</tspan><tspan x="38">17</tspan></text></g>
<g id="pr5" transform="translate(602.3,1184)"><use href="#bx"/><text class="tt" x="22.5" y="-33">120</text><text class="tt" x="22.5" y="33">56</text><text class="q" y="-13"><tspan x="9">29</tspan><tspan x="19">34</tspan><tspan x="28.5">38</tspan><tspan x="38">19</tspan></text><text class="q" y="12"><tspan x="9">16</tspan><tspan x="19">12</tspan><tspan x="28.5">10</tspan><tspan x="38">18</tspan></text></g>
<g id="pr6" transform="translate(602.3,1408.3)"><use href="#bx"/><text class="tt" x="22.5" y="-33">47</text><text class="tt" x="22.5" y="33">48</text><text class="q" y="-13"><tspan x="9">11</tspan><tspan x="19" class="s">9</tspan><tspan x="28.5">20</tspan><tspan x="38" class="s">7</tspan></text><text class="q" y="12"><tspan x="9">14</tspan><tspan x="19">11</tspan><tspan x="28.5" class="s">9</tspan><tspan x="38">14</tspan></text></g>
<g id="pr7" transform="translate(602.3,1614.3)"><use href="#bx"/><text class="tt" x="22.5" y="-33">69</text><text class="tt" x="22.5" y="33">76</text><text class="q" y="-13"><tspan x="9">15</tspan><tspan x="19" class="s">7</tspan><tspan x="28.5">18</tspan><tspan x="38">29</tspan></text><text class="q" y="12"><tspan x="9">11</tspan><tspan x="19">27</tspan><tspan x="28.5">21</tspan><tspan x="38">17</tspan></text></g>

<g id="qr1" transform="translate(556.5,297.3)"><use href="#bx"/><text class="tt" x="22.5" y="-34">154</text><text class="tt" x="22.5" y="34">50</text><text class="q" y="-13"><tspan x="9">37</tspan><tspan x="19">40</tspan><tspan x="28.5">44</tspan><tspan x="38">33</tspan></text><text class="q" y="12"><tspan x="9">11</tspan><tspan x="19" class="s">5</tspan><tspan x="28.5">10</tspan><tspan x="38">24</tspan></text></g>
<g id="qr2" transform="translate(556.5,702.7)"><use href="#bx"/><text class="tt" x="22.5" y="-34">62</text><text class="tt" x="22.5" y="34">67</text><text class="q" y="-13"><tspan x="9" class="s">9</tspan><tspan x="19">17</tspan><tspan x="28.5">12</tspan><tspan x="38">24</tspan></text><text class="q" y="12"><tspan x="9">18</tspan><tspan x="19">22</tspan><tspan x="28.5">13</tspan><tspan x="38">14</tspan></text></g>
<g id="qr3" transform="translate(556.5,1109.3)"><use href="#bx"/><text class="tt" x="22.5" y="-34">71</text><text class="tt" x="22.5" y="34">46</text><text class="q" y="-13"><tspan x="9">23</tspan><tspan x="19">11</tspan><tspan x="28.5">11</tspan><tspan x="38">26</tspan></text><text class="q" y="12"><tspan x="9">10</tspan><tspan x="19">19</tspan><tspan x="28.5">14</tspan><tspan x="38" class="s">3</tspan></text></g>
<g id="qr4" transform="translate(556.5,1557.7)"><use href="#bx"/><text class="tt" x="22.5" y="-34">70</text><text class="tt" x="22.5" y="34">82</text><text class="q" y="-13"><tspan x="9">18</tspan><tspan x="19">16</tspan><tspan x="28.5">15</tspan><tspan x="38">21</tspan></text><text class="q" y="12"><tspan x="9">23</tspan><tspan x="19">17</tspan><tspan x="28.5">19</tspan><tspan x="38">23</tspan></text></g>

<g id="sr1" transform="translate(510.5,478.3)"><use href="#bx"/><text class="tt" x="22.5" y="-34">109</text><text class="tt" x="22.5" y="34">63</text><text class="q" y="-13"><tspan x="9">29</tspan><tspan x="19">32</tspan><tspan x="28.5">14</tspan><tspan x="38">34</tspan></text><text class="q" y="12"><tspan x="9">11</tspan><tspan x="19">20</tspan><tspan x="28.5">11</tspan><tspan x="38">21</tspan></text></g>
<g id="sr2" transform="translate(510.5,1302.7)"><use href="#bx"/><text class="tt" x="22.5" y="-34">70</text><text class="tt" x="22.5" y="34">95</text><text class="q" y="-13"><tspan x="9">18</tspan><tspan x="19">17</tspan><tspan x="28.5">13</tspan><tspan x="38">22</tspan></text><text class="q" y="12"><tspan x="9">17</tspan><tspan x="19">28</tspan><tspan x="28.5">30</tspan><tspan x="38">20</tspan></text></g>
</g>
</svg>
